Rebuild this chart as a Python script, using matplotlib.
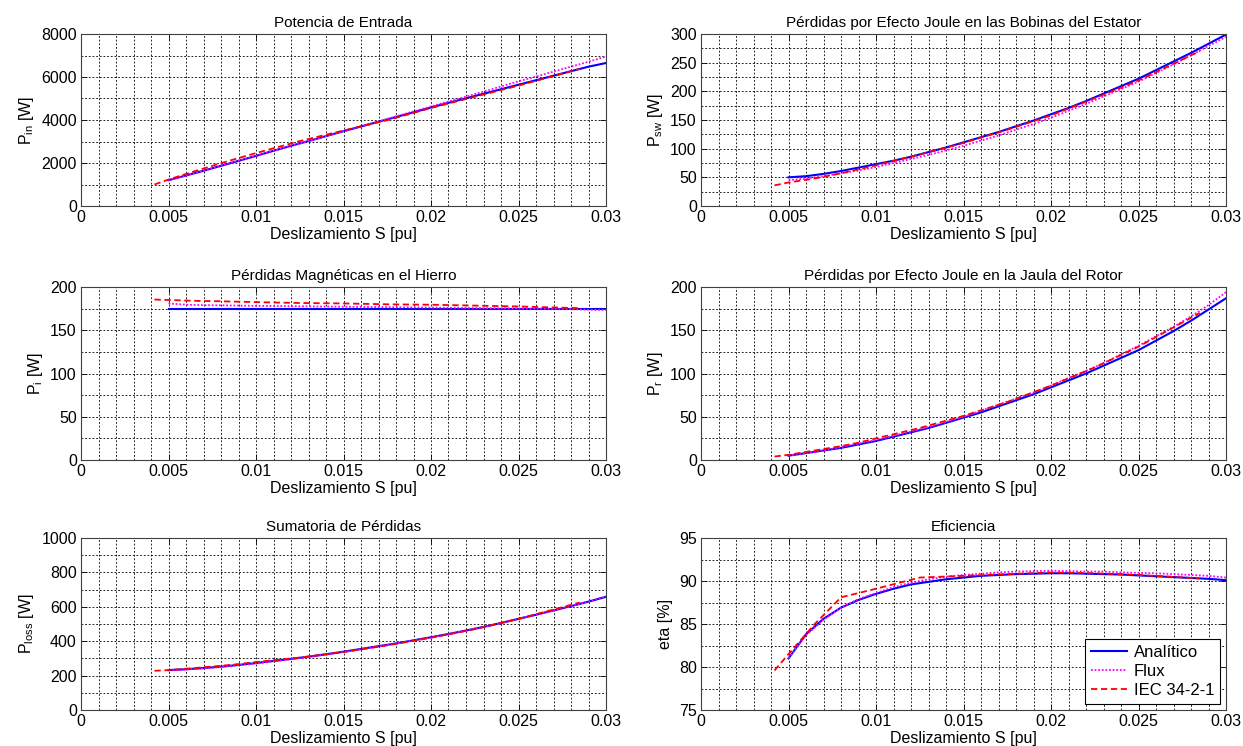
import matplotlib
matplotlib.use("Agg")
import matplotlib.pyplot as plt
from matplotlib.ticker import MultipleLocator, FuncFormatter

plt.rcParams['font.family'] = ['Liberation Sans', 'DejaVu Sans']
plt.rcParams['mathtext.fontset'] = 'custom'
plt.rcParams['mathtext.rm'] = 'Liberation Sans'
plt.rcParams['mathtext.it'] = 'Liberation Sans'
plt.rcParams['mathtext.default'] = 'regular'

# Slip values (pu)
slip_model = [0.005, 0.006, 0.007, 0.008, 0.009, 0.010, 0.011, 0.012, 0.013,
              0.014, 0.015, 0.016, 0.017, 0.018, 0.019, 0.020, 0.021, 0.022,
              0.023, 0.024, 0.025, 0.026, 0.027, 0.028, 0.029, 0.030]
slip_iec = [0.0042, 0.005, 0.0065, 0.008, 0.009, 0.010, 0.0125, 0.015,
            0.0175, 0.020, 0.0225, 0.025, 0.0285]

# Input power [W]
pin_analitico = [1200, 1420, 1640, 1870, 2100, 2330, 2570, 2800, 3020, 3250,
                 3480, 3700, 3920, 4140, 4360, 4580, 4800, 5010, 5220, 5430,
                 5640, 5850, 6060, 6270, 6480, 6650]
pin_flux = [1200, 1420, 1640, 1870, 2100, 2330, 2570, 2800, 3020, 3250,
            3480, 3700, 3930, 4170, 4400, 4630, 4860, 5090, 5320, 5560,
            5800, 6020, 6250, 6480, 6710, 6950]
pin_iec = [1000, 1230, 1620, 1990, 2230, 2460, 3020, 3510, 3990, 4560,
           5080, 5600, 6380]

# Stator winding Joule losses [W]
psw_analitico = [50, 52, 56, 61, 67, 73, 79, 86, 94, 102, 111, 120, 129, 139,
                 149, 160, 171, 183, 196, 209, 222, 237, 252, 267, 283, 299]
psw_flux = [45, 48, 52, 57, 62, 68, 75, 82, 89, 97, 105, 114, 123, 133, 143,
            154, 166, 178, 191, 204, 217, 232, 247, 263, 279, 295]
psw_iec = [36, 41, 48, 57, 64, 71, 90, 110, 133, 158, 188, 219, 270]

# Iron losses [W]
pi_analitico = [175] * 26
pi_flux = [181, 179.5, 179, 178.8, 178.5, 178.2, 178, 177.8, 177.6, 177.4,
           177.2, 177, 176.8, 176.6, 176.4, 176.2, 176, 175.8, 175.6, 175.4,
           175.2, 175, 174.8, 174.5, 173.8, 173.5]
pi_iec = [185.5, 185, 184, 183.5, 183, 182.5, 181.5, 181, 180, 179.5,
          178.5, 177.5, 175.5]

# Rotor cage Joule losses [W]
pr_analitico = [5, 8, 11, 14, 18, 22, 27, 32, 37, 43, 49, 55, 62, 69, 76, 84,
                92, 100, 109, 118, 127, 138, 149, 161, 174, 187]
pr_flux = [5, 8, 11, 15, 19, 23, 28, 33, 38, 44, 50, 57, 64, 71, 78, 86, 95,
           103, 112, 122, 132, 143, 154, 166, 179, 194]
pr_iec = [4, 6, 11, 16, 20, 25, 37, 51, 67, 86, 107, 131, 170]

# Total losses [W]
ploss_analitico = [232, 237, 244, 252, 262, 273, 285, 297, 310, 324, 339, 355,
                   371, 387, 405, 423, 442, 462, 483, 506, 530, 554, 579, 604,
                   630, 658]
ploss_flux = [230, 235, 242, 250, 260, 271, 283, 295, 308, 322, 337, 353,
              369, 386, 404, 422, 441, 461, 482, 505, 529, 553, 578, 604,
              631, 660]
ploss_iec = [228, 232, 244, 257, 267, 279, 305, 337, 376, 420, 470, 530, 625]

# Efficiency [%]
eta_analitico = [81.0, 83.8, 85.6, 86.9, 87.8, 88.5, 89.1, 89.6, 89.9, 90.2,
                 90.4, 90.6, 90.7, 90.8, 90.85, 90.9, 90.9, 90.85, 90.8,
                 90.75, 90.65, 90.55, 90.45, 90.35, 90.25, 90.1]
eta_flux = [81.0, 83.7, 85.5, 86.9, 87.9, 88.6, 89.3, 89.8, 90.2, 90.5, 90.7,
            90.85, 91.0, 91.1, 91.15, 91.2, 91.15, 91.1, 91.1, 91.0, 90.95,
            90.9, 90.8, 90.7, 90.6, 90.4]
eta_iec = [79.6, 81.5, 85.0, 88.1, 88.6, 89.1, 90.4, 90.6, 90.8, 91.0, 90.9,
           90.7, 90.3]

x_ticks = [0, 0.005, 0.01, 0.015, 0.02, 0.025, 0.03]
x_tick_labels = ['0', '0.005', '0.01', '0.015', '0.02', '0.025', '0.03']

series_labels = ['Analítico', 'Flux', 'IEC 34-2-1']

panels = [
    dict(title='Potencia de Entrada', ylabel=r'P$_{in}$ [W]',
         data=(pin_analitico, pin_flux, pin_iec), ylim=(0, 8000), major=2000, minor=1000),
    dict(title='Pérdidas por Efecto Joule en las Bobinas del Estator', ylabel=r'P$_{sw}$ [W]',
         data=(psw_analitico, psw_flux, psw_iec), ylim=(0, 300), major=50, minor=25),
    dict(title='Pérdidas Magnéticas en el Hierro', ylabel=r'P$_{i}$ [W]',
         data=(pi_analitico, pi_flux, pi_iec), ylim=(0, 200), major=50, minor=25),
    dict(title='Pérdidas por Efecto Joule en la Jaula del Rotor', ylabel=r'P$_{r}$ [W]',
         data=(pr_analitico, pr_flux, pr_iec), ylim=(0, 200), major=50, minor=25),
    dict(title='Sumatoria de Pérdidas', ylabel=r'P$_{loss}$ [W]',
         data=(ploss_analitico, ploss_flux, ploss_iec), ylim=(0, 1000), major=200, minor=100),
    dict(title='Eficiencia', ylabel='eta [%]',
         data=(eta_analitico, eta_flux, eta_iec), ylim=(75, 95), major=5, minor=2.5),
]

W, H = 1243, 746
fig = plt.figure(figsize=(W / 100, H / 100), dpi=100)

col_left = [81, 701]
col_width = 525
rows = [(34, 206), (287, 460), (538, 710)]

grid_kw = dict(color='black', linestyle=(0, (2.2, 2.2)), linewidth=0.6)

for i, p in enumerate(panels):
    r, c = divmod(i, 2)
    top, bot = rows[r]
    ax = fig.add_axes([col_left[c] / W, 1 - bot / H, col_width / W, (bot - top) / H])
    a, f, e = p['data']
    ax.plot(slip_model, a, color='#0000ff', linestyle='-', linewidth=1.5, label=series_labels[0])
    ax.plot(slip_model, f, color='#ff00ff', linestyle=(0, (1, 1)), linewidth=1.3, label=series_labels[1])
    ax.plot(slip_iec, e, color='#ff0000', linestyle=(0, (3.5, 2)), linewidth=1.3, label=series_labels[2])

    ax.set_xlim(0, 0.03)
    ax.set_ylim(*p['ylim'])
    ax.set_xticks(x_ticks)
    ax.set_xticklabels(x_tick_labels)
    ax.xaxis.set_minor_locator(MultipleLocator(0.001))
    ax.yaxis.set_major_locator(MultipleLocator(p['major']))
    ax.yaxis.set_minor_locator(MultipleLocator(p['minor']))
    ax.yaxis.set_major_formatter(FuncFormatter(lambda v, _: f'{v:g}'))
    ax.grid(True, which='both', **grid_kw)
    ax.set_axisbelow(True)
    ax.tick_params(which='both', direction='in', top=True, right=True,
                   labelsize=11.5, length=4, width=0.6, pad=3)
    ax.tick_params(which='minor', length=0)
    for s in ax.spines.values():
        s.set_linewidth(0.8)
        s.set_color('#404040')
    ax.set_title(p['title'], fontsize=11, pad=5)
    ax.set_xlabel('Deslizamiento S [pu]', fontsize=11.5, labelpad=1)
    ax.set_ylabel(p['ylabel'], fontsize=11.5, labelpad=4)

    if i == 5:
        leg = ax.legend(loc='lower right', fontsize=12, frameon=True, fancybox=False,
                        edgecolor='black', framealpha=1, borderaxespad=0.35,
                        handlelength=2.2, handletextpad=0.4, labelspacing=0.25,
                        borderpad=0.35)
        leg.get_frame().set_linewidth(0.8)

fig.savefig('out.png', dpi=100)
